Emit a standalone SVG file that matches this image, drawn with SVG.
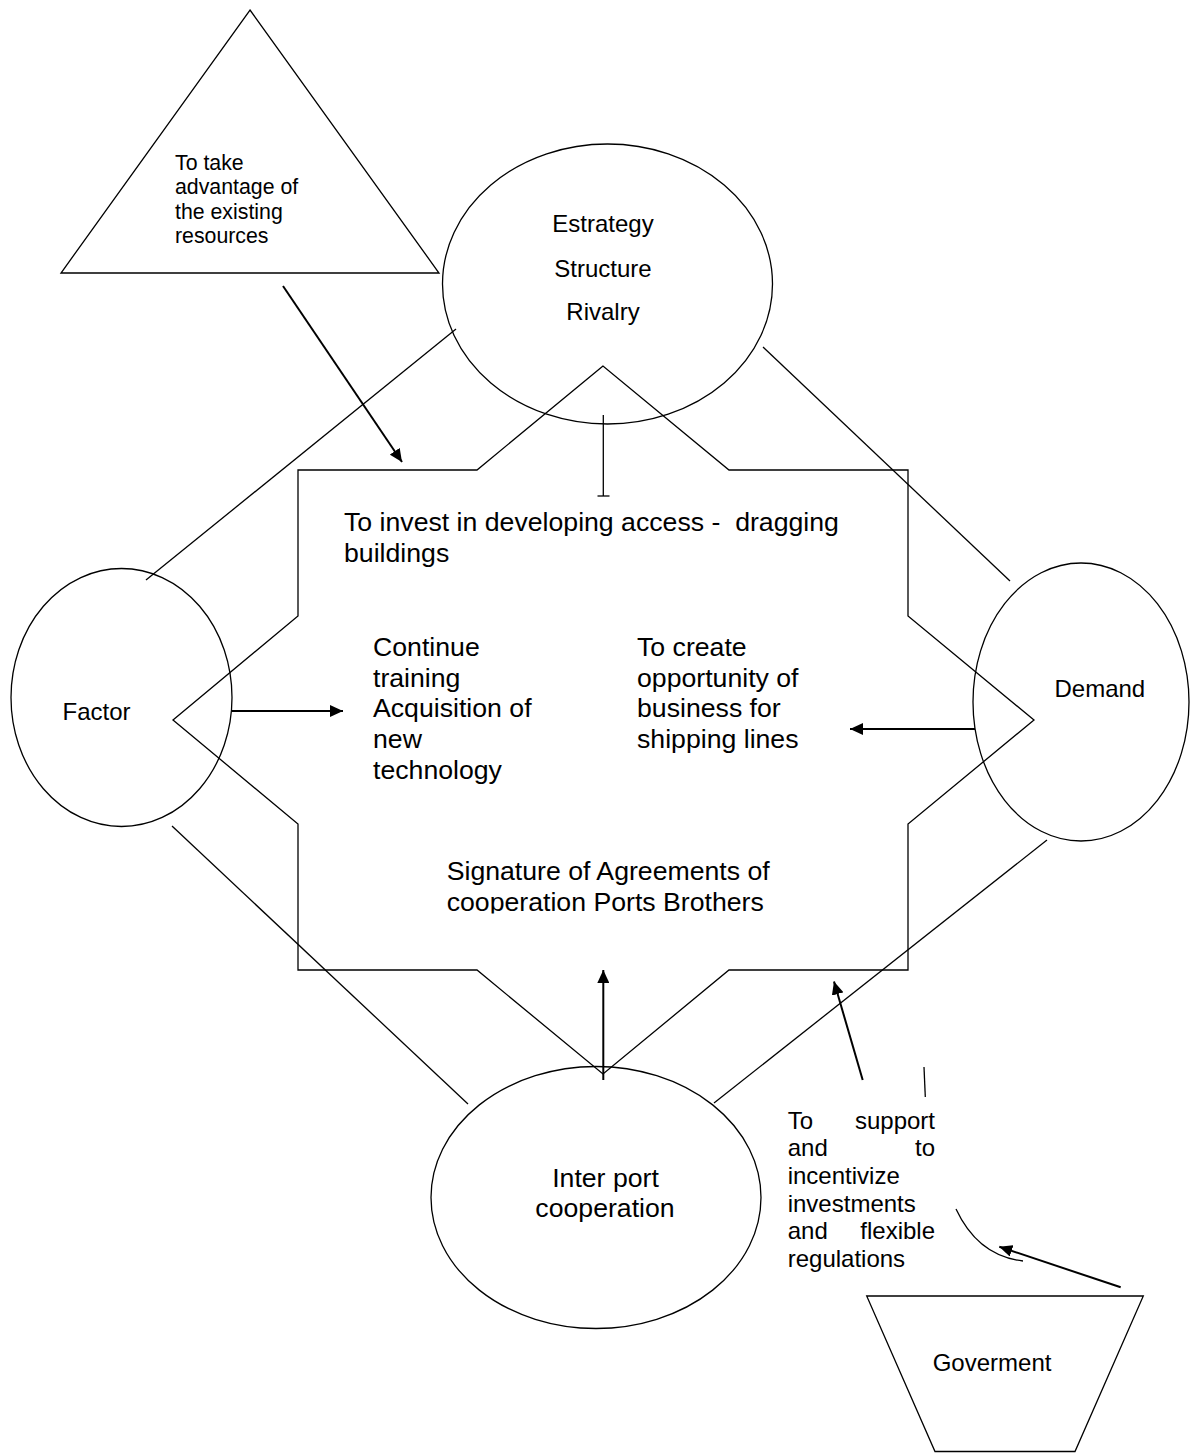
<svg xmlns="http://www.w3.org/2000/svg" width="1194" height="1453" viewBox="0 0 1194 1453">
<style>
.s{fill:none;stroke:#000;stroke-width:1.3}
.a{fill:none;stroke:#000;stroke-width:2}
text{font-family:"Liberation Sans",Arial,Helvetica,sans-serif;fill:#000}
.t16{font-size:21.3px}
.t18{font-size:24px}
.t20{font-size:26.67px}
</style>
<defs>
<marker id="ah" markerUnits="userSpaceOnUse" markerWidth="14" markerHeight="12" refX="13" refY="6" orient="auto">
<path d="M0,0 L13,6 L0,12 Z" fill="#000"/>
</marker>
<clipPath id="sigclip"><rect x="430" y="840" width="420" height="73.5"/></clipPath>
</defs>
<rect width="1194" height="1453" fill="#fff"/>

<g id="center-polygon">
<polygon class="s" points="603,366 477,470 298,470 298,616 173,720 298,824 298,970 477,970 603,1074 729,970 908,970 908,824 1034,720 908,616 908,470 729,470"/>
</g>

<g id="resources-triangle">
<polygon class="s" points="250,10 439,273 61,273"/>
<text class="t16" x="175" y="170">To take</text>
<text class="t16" x="175" y="194.4">advantage of</text>
<text class="t16" x="175" y="218.8">the existing</text>
<text class="t16" x="175" y="243.2">resources</text>
</g>

<g id="strategy-node">
<ellipse class="s" cx="607.5" cy="284" rx="165" ry="140"/>
<text class="t18" x="603" y="232" text-anchor="middle">Estrategy</text>
<text class="t18" x="603" y="277" text-anchor="middle">Structure</text>
<text class="t18" x="603" y="320" text-anchor="middle">Rivalry</text>
</g>

<g id="factor-node">
<ellipse class="s" cx="121.5" cy="697.5" rx="110.5" ry="129"/>
<text class="t18" x="62.5" y="720">Factor</text>
</g>

<g id="demand-node">
<ellipse class="s" cx="1081" cy="702" rx="108" ry="139"/>
<text class="t18" x="1054.5" y="697">Demand</text>
</g>

<g id="interport-node">
<ellipse class="s" cx="596" cy="1197.5" rx="165" ry="131"/>
<text class="t20" x="605.5" y="1186.7" text-anchor="middle">Inter port</text>
<text class="t20" x="605" y="1216.7" text-anchor="middle">cooperation</text>
</g>

<g id="government-node">
<polygon class="s" points="866.7,1296 1143.3,1296 1075,1451.5 935,1451.5"/>
<text class="t18" x="932.7" y="1370.7">Goverment</text>
</g>

<g id="text-invest">
<text class="t20" x="344" y="531" style="white-space:pre" xml:space="preserve">To invest in developing access -  dragging</text>
<text class="t20" x="344" y="561.7">buildings</text>
</g>

<g id="text-training">
<text class="t20" x="373" y="656">Continue</text>
<text class="t20" x="373" y="686.7">training</text>
<text class="t20" x="373" y="717.3">Acquisition of</text>
<text class="t20" x="373" y="748">new</text>
<text class="t20" x="373" y="778.7">technology</text>
</g>

<g id="text-business">
<text class="t20" x="637" y="656">To create</text>
<text class="t20" x="637" y="686.7">opportunity of</text>
<text class="t20" x="637" y="717.3">business for</text>
<text class="t20" x="637" y="748">shipping lines</text>
</g>

<g id="text-agreements" clip-path="url(#sigclip)">
<text class="t20" x="446.7" y="880">Signature of Agreements of</text>
<text class="t20" x="446.7" y="910.7">cooperation Ports Brothers</text>
</g>

<g id="text-support">
<text class="t18" x="787.7" y="1128.7">To</text>
<text class="t18" x="935" y="1128.7" text-anchor="end">support</text>
<text class="t18" x="787.7" y="1156.3">and</text>
<text class="t18" x="935" y="1156.3" text-anchor="end">to</text>
<text class="t18" x="787.7" y="1184">incentivize</text>
<text class="t18" x="787.7" y="1211.6">investments</text>
<text class="t18" x="787.7" y="1239.2">and</text>
<text class="t18" x="935" y="1239.2" text-anchor="end">flexible</text>
<text class="t18" x="787.7" y="1266.8">regulations</text>
</g>

<g id="connectors">
<line class="s" x1="146" y1="580" x2="456" y2="329"/>
<line class="s" x1="763" y1="347" x2="1010" y2="581"/>
<line class="s" x1="172" y1="826" x2="468" y2="1104"/>
<line class="s" x1="1047" y1="840" x2="714" y2="1103"/>
<line class="s" x1="603.3" y1="415" x2="603.3" y2="496"/>
<line class="s" x1="597.5" y1="496" x2="609.5" y2="496"/>
<line class="a" x1="283" y1="286" x2="402" y2="462" marker-end="url(#ah)"/>
<line class="a" x1="232" y1="711" x2="343" y2="711" marker-end="url(#ah)"/>
<line class="a" x1="975" y1="729" x2="850" y2="729" marker-end="url(#ah)"/>
<line class="a" x1="603.3" y1="1080" x2="603.3" y2="970" marker-end="url(#ah)"/>
<line class="a" x1="862.7" y1="1080" x2="834" y2="981.5" marker-end="url(#ah)"/>
<line class="s" x1="924" y1="1067" x2="925.3" y2="1097"/>
<path class="s" d="M956,1209 Q978,1256 1023,1261"/>
<line class="a" x1="1120.7" y1="1287.3" x2="999.3" y2="1246.7" marker-end="url(#ah)"/>
</g>
</svg>
